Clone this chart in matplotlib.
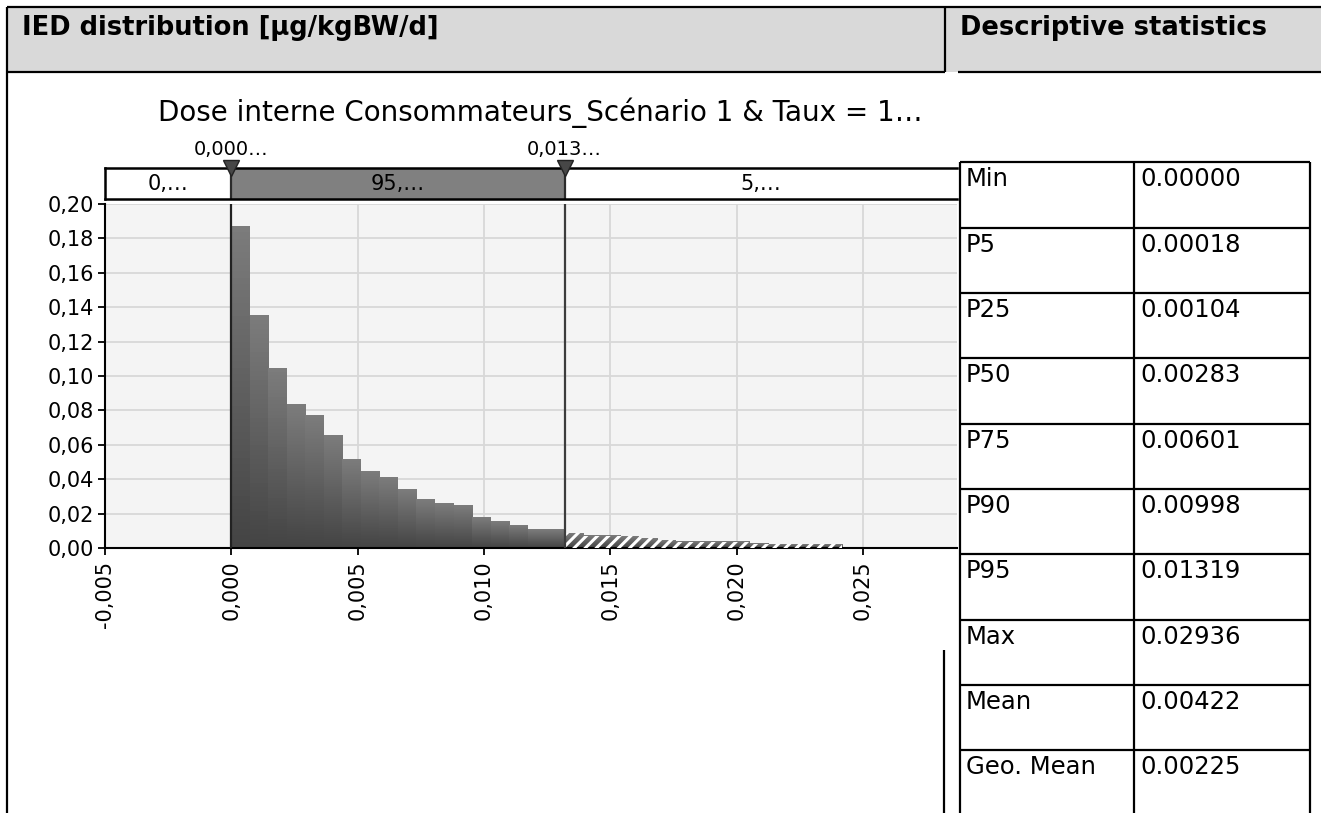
import matplotlib
matplotlib.use("Agg")
import matplotlib.pyplot as plt
import numpy as np
from matplotlib.colors import LinearSegmentedColormap
from matplotlib.patches import Rectangle
from matplotlib.ticker import FuncFormatter

# histogram of the IED distribution (fraction per bin), bins of equal width from 0
bin_width = 0.01319 / 18
body_heights = [0.187, 0.135, 0.1045, 0.0835, 0.077, 0.0655, 0.0515, 0.0445, 0.041,
                0.034, 0.028, 0.026, 0.0245, 0.0175, 0.0155, 0.013, 0.0107, 0.0107]
tail_heights = [0.0085, 0.0070, 0.0070, 0.0069, 0.0056, 0.0046, 0.0037, 0.0036,
                0.0036, 0.0037, 0.0024, 0.0023, 0.0023, 0.0022, 0.0023]

p_low, p_high = 0.0, 0.01319
p_labels = ["0,000…", "0,013…"]
band_labels = ["0,…", "95,…", "5,…"]

title = "Dose interne Consommateurs_Scénario 1 & Taux = 1…"
header_left = "IED distribution [µg/kgBW/d]"
header_right = "Descriptive statistics"

stat_names = ["Min", "P5", "P25", "P50", "P75", "P90", "P95", "Max", "Mean", "Geo. Mean"]
stat_values = ["0.00000", "0.00018", "0.00104", "0.00283", "0.00601",
               "0.00998", "0.01319", "0.02936", "0.00422", "0.00225"]

W, H = 1321, 813
plt.rcParams['font.family'] = ['DejaVu Sans']
plt.rcParams['hatch.linewidth'] = 2.2
fig = plt.figure(figsize=(W / 100, H / 100), dpi=100)

xmin, xmax = -0.005, 0.02872

# main histogram axes
ax = fig.add_axes([105 / W, 1 - 548 / H, (957 - 105) / W, (548 - 204) / H])
ax.set_facecolor('#f4f4f4')
heights = body_heights + tail_heights
lefts = np.arange(len(heights)) * bin_width
bars = ax.bar(lefts, heights, width=bin_width, align='edge', color='none', linewidth=0, zorder=3)

grad = LinearSegmentedColormap.from_list('g', ['#444444', '#7c7c7c'])
for i, b in enumerate(bars):
    x0, w, h = b.get_x(), b.get_width(), b.get_height()
    ax.imshow(np.linspace(0, 1, 50).reshape(-1, 1), cmap=grad, origin='lower',
              extent=(x0, x0 + w, 0, h), aspect='auto', zorder=2)
    if i >= len(body_heights):
        ax.add_patch(Rectangle((x0, 0), w, h, facecolor='none', edgecolor='white',
                               linewidth=0, hatch='///', zorder=3))

ax.set_xlim(xmin, xmax)
ax.set_ylim(0, 0.20)
ax.set_xticks([-0.005, 0.0, 0.005, 0.010, 0.015, 0.020, 0.025])
ax.set_yticks(np.arange(0, 0.201, 0.02))
ax.xaxis.set_major_formatter(FuncFormatter(lambda v, p: f"{round(v, 3) + 0:.3f}".replace('.', ',')))
ax.yaxis.set_major_formatter(FuncFormatter(lambda v, p: f"{v:.2f}".replace('.', ',')))
ax.tick_params(axis='x', labelrotation=90, labelsize=15, length=5, width=1.3, pad=4)
ax.tick_params(axis='y', labelsize=15, length=5, width=1.3, pad=3)
ax.grid(True, color='#d8d8d8', linewidth=1.3, zorder=0)
ax.set_axisbelow(True)
for s in ['top', 'right']:
    ax.spines[s].set_visible(False)
for s in ['left', 'bottom']:
    ax.spines[s].set_linewidth(1.5)
ax.axvline(p_low, color='#222222', linewidth=1.6, zorder=4)
ax.axvline(p_high, color='#3c3c3c', linewidth=1.6, zorder=4)

# percentile band strip above the plot
sx = fig.add_axes([105 / W, 1 - 199 / H, (957 - 105) / W, 31 / H])
sx.set_xlim(xmin, xmax)
sx.set_ylim(0, 1)
sx.add_patch(Rectangle((p_low, 0), p_high - p_low, 1, facecolor='#808080', edgecolor='none'))
sx.set_xticks([])
sx.set_yticks([])
sx.spines['right'].set_visible(False)
for s in ['top', 'bottom', 'left']:
    sx.spines[s].set_linewidth(1.8)
centers = [(xmin + p_low) / 2, (p_low + p_high) / 2, (p_high + xmax) / 2]
for c, lab in zip(centers, band_labels):
    sx.text(c, 0.5, lab, ha='center', va='center', fontsize=15)
for p, lab in zip([p_low, p_high], p_labels):
    sx.axvline(p, color='#2b2b2b', linewidth=1.6)
    sx.plot([p], [1], marker='v', markersize=11, color='#474747',
            markeredgecolor='#222222', clip_on=False, zorder=5)
    sx.annotate(lab, xy=(p, 1), xytext=(0, 13), textcoords='offset points',
                ha='center', va='center', fontsize=14, annotation_clip=False)

# overlay for header, title and table
ov = fig.add_axes([0, 0, 1, 1], zorder=10)
ov.set_xlim(0, W)
ov.set_ylim(H, 0)
ov.axis('off')
ov.patch.set_alpha(0)

ov.add_patch(Rectangle((7, 7), W - 7, 65, facecolor='#d9d9d9', edgecolor='none'))
lk = dict(color='black', linewidth=1.6, solid_capstyle='butt')
ov.plot([7, W], [7, 7], **lk)
ov.plot([7, 945], [72, 72], **lk)
ov.plot([958, W], [72, 72], **lk)
ov.plot([945, 945], [7, 72], **lk)
ov.plot([7, 7], [7, H], **lk)
ov.plot([944, 944], [650, H], **lk)
ov.text(22, 28, header_left, fontsize=18.5, fontweight='bold', va='center', ha='left')
ov.text(960, 28, header_right, fontsize=18.5, fontweight='bold', va='center', ha='left')

ov.text(540, 113, title, fontsize=20, ha='center', va='center')

row_top = 162.5
row_h = 65.3
c0, c1, c2 = 960, 1134, 1310
ov.add_patch(Rectangle((c0, row_top), c2 - c0, H - row_top, facecolor='white', edgecolor='none'))
for i, (name, val) in enumerate(zip(stat_names, stat_values)):
    y = row_top + i * row_h
    ov.plot([c0, c2], [y, y], **lk)
    ov.text(c0 + 6, y + 5, name, fontsize=17.5, va='top', ha='left')
    ov.text(c1 + 6, y + 5, val, fontsize=17.5, va='top', ha='left')
for cx in [c0, c1, c2]:
    ov.plot([cx, cx], [row_top, H], **lk)

fig.savefig('out.png', dpi=100)
